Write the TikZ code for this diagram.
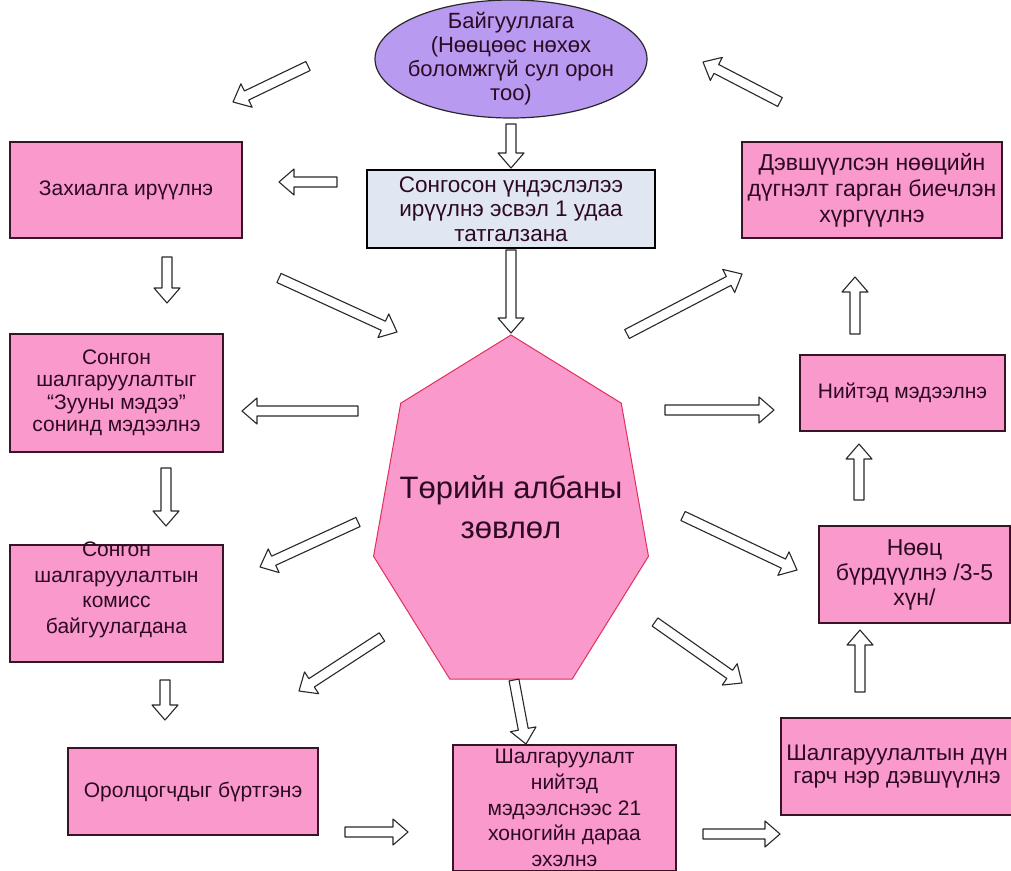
\documentclass[tikz,border=0pt]{standalone}
\usepackage{fontspec}
\setmainfont{Liberation Sans}
\usetikzlibrary{calc,positioning,shapes.geometric}

\definecolor{boxpink}{RGB}{250,153,204}
\definecolor{boxline}{RGB}{55,20,40}
\definecolor{ovalfill}{RGB}{184,154,240}
\definecolor{selfill}{RGB}{224,230,242}
\definecolor{heptline}{RGB}{226,48,92}
\definecolor{txt}{RGB}{45,10,35}
\definecolor{arrowgray}{RGB}{40,40,40}

\begin{document}
\begin{tikzpicture}[
		x=1pt, y=-1pt,
		box/.style={
			draw=boxline,
			line width=1.5pt,
			fill=boxpink,
			text=txt,
			inner sep=0pt,
			align=center,
			font=\fontsize{21}{24.5}\selectfont
		},
		boxtext/.style={
			text=txt,
			inner sep=0pt,
			align=center,
			font=\fontsize{21}{25.5}\selectfont
		},
		selbox/.style={
			box,
			draw=black,
			fill=selfill
		},
		oval/.style={
			ellipse,
			draw=arrowgray,
			line width=1.2pt,
			fill=ovalfill,
			text=txt,
			inner xsep=-14pt,
			inner ysep=-14pt,
			align=center,
			font=\fontsize{22}{24}\selectfont
		},
		hept/.style={
			draw=heptline,
			line width=1pt,
			fill=boxpink
		},
		big/.style={
			text=txt,
			align=center,
			font=\fontsize{31}{40}\selectfont
		},
		blk/.style={
			draw=arrowgray,
			line width=1.1pt,
			fill=white,
			line join=round,
			to path={
				let \p1=(\tikztostart), \p2=(\tikztotarget),
				\n1={atan2(\y2-\y1,\x2-\x1)}, \n2={veclen(\x2-\x1,\y2-\y1)-15} in
				($(\p1)+(\n1+90:5pt)$) -- ($(\p1)+(\n1:\n2*1pt)+(\n1+90:5pt)$)
				-- ($(\p1)+(\n1:\n2*1pt)+(\n1+90:13pt)$) -- (\p2)
				-- ($(\p1)+(\n1:\n2*1pt)+(\n1-90:13pt)$)
				-- ($(\p1)+(\n1:\n2*1pt)+(\n1-90:5pt)$)
				-- ($(\p1)+(\n1-90:5pt)$) -- cycle
			}
		}
		]
		
		\path[use as bounding box, fill=white] (0,0) rectangle (1011,870);
		
		% top
		\node[oval, minimum width=272, minimum height=118] 
		(orgn) at (511,59) {Байгууллага\\(Нөөцөөс нөхөх\\боломжгүй сул орон\\тоо)};
		\node[selbox, minimum width=288, minimum height=78, font=\fontsize{22.5}{24.5}\selectfont] 
		(sel) at (511,209) {Сонгосон үндэслэлээ\\ирүүлнэ эсвэл 1 удаа\\татгалзана};
		
		% centre
		\draw[hept] plot[samples at={0,...,6}, variable=\k]
		({511+141*cos(90+\k*360/7)}, {516-181*sin(90+\k*360/7)}) -- cycle;
		\node[big] (council) at (511,507) {Төрийн албаны\\зөвлөл};
		
		% left
		\node[box, minimum width=232, minimum height=96] 
		(order) at (126,190) {Захиалга ирүүлнэ};
		\node[box, minimum width=213, minimum height=118, font=\fontsize{21}{22.5}\selectfont] 
		(advert) at (116.5,393) {Сонгон\\шалгаруулалтыг\\“Зууны мэдээ”\\сонинд мэдээлнэ};
		\node[box, minimum width=213, minimum height=117] 
		(commis) at (116.5,603.5) {};
		\node[boxtext] 
		(commistxt) at (116.5,590) {Сонгон\\шалгаруулалтын\\комисс\\байгуулагдана};
		\node[box, minimum width=250, minimum height=87] 
		(regist) at (193,791.5) {Оролцогчдыг бүртгэнэ};
		\node[box, minimum width=223, minimum height=126, font=\fontsize{21}{25.7}\selectfont] 
		(exam) at (564.5,808) {Шалгаруулалт\\нийтэд\\мэдээлснээс 21\\хоногийн дараа\\эхэлнэ};
		
		% right
		\node[box, minimum width=260, minimum height=96, font=\fontsize{23}{26}\selectfont] 
		(concl) at (872,190) {Дэвшүүлсэн нөөцийн\\дүгнэлт гарган биечлэн\\хүргүүлнэ};
		\node[box, minimum width=205, minimum height=76] 
		(publ) at (902.5,393) {Нийтэд мэдээлнэ};
		\node[box, minimum width=191, minimum height=97, font=\fontsize{23}{25}\selectfont] 
		(reserve) at (914.5,574.5) {Нөөц\\бүрдүүлнэ /3-5\\хүн/};
		\node[box, minimum width=232, minimum height=97, font=\fontsize{22.5}{23.5}\selectfont] 
		(result) at (897,766.5) {Шалгаруулалтын дүн\\гарч нэр дэвшүүлнэ};
		
		% block arrows: tail / head
		\foreach \i/\sx/\sy/\ex/\ey in {
			1/511/124/511/168, 2/511/250/511/333, 3/337/182/279/182,
			4/308/66/233/102, 5/780/102/703/62, 6/167/257/167/303,
			7/279/278/397/332, 8/358/411/242/411, 9/665/410/774/410,
			10/627/334/742/274, 11/855/334/855/277, 12/166/468/166/526,
			13/358/522/260/567, 14/683/516/797/570, 15/859/500/859/444,
			16/165/680/165/720, 17/382/637/299/691, 18/514/680/526/744,
			19/655/622/742/683, 20/860/692/860/630, 21/345/832/408/832,
			22/703/834/780/834}
		{
			\coordinate (t\i) at (\sx,\sy);
			\coordinate (h\i) at (\ex,\ey);
			\path[blk] (t\i) to (h\i);
		}
		
		\end{tikzpicture}
\end{document}
